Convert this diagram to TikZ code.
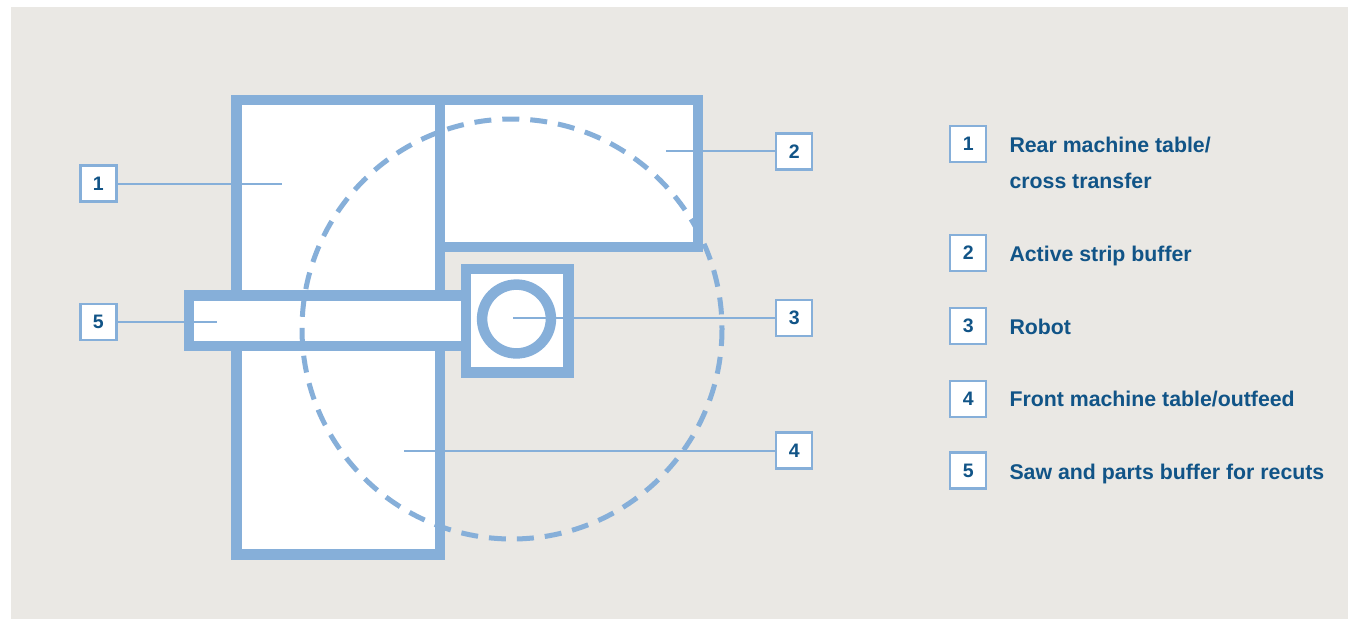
\documentclass[tikz,border=0pt]{standalone}
\usepackage{fontspec}
\setmainfont{Liberation Sans}
\definecolor{bg}{RGB}{234,232,228}
\definecolor{bl}{RGB}{134,175,217}
\definecolor{tx}{RGB}{17,84,135}
\begin{document}
\begin{tikzpicture}[x=1pt,y=-1pt,
  wall/.style={draw=bl,line width=10.5pt},
  tag/.style={draw=bl,line width=2.5pt,fill=white,minimum width=36pt,minimum height=36pt,inner sep=0pt,text=tx,font=\fontsize{19.5}{20}\selectfont\bfseries},
  lead/.style={draw=bl,line width=2pt},
  legtext/.style={anchor=base west,inner sep=0pt,text=tx,font=\fontsize{21.3}{25}\selectfont\bfseries}]
\useasboundingbox (0,0) rectangle (1348,619);
\fill[white] (0,0) rectangle (1348,619);
\fill[bg] (11,7) rectangle (1348,619);
% fills
\fill[white] (236.7,100) rectangle (440,554.7);
\fill[white] (440,100) rectangle (698,247);
\fill[white] (189,295.3) rectangle (466,346);
\fill[white] (466,269) rectangle (568.7,372.7);
% reach of the robot
\draw[bl,line width=5pt,dash pattern=on 17pt off 11pt] (512,329) circle[radius=210];
% walls
\draw[wall] (236.7,295.3) -- (236.7,100) -- (698,100) -- (698,247) -- (440,247);
\draw[wall] (440,100) -- (440,295.3);
\draw[wall] (236.7,346) -- (236.7,554.7) -- (440,554.7) -- (440,346);
\draw[wall] (466,295.3) -- (189,295.3) -- (189,346) -- (466,346);
\draw[wall] (466,269) rectangle (568.7,372.7);
\draw[wall] (516.5,319) circle[radius=34.4];
% label boxes
\node[tag] (k1) at (98.3,183.5) {1};
\node[tag] (k5) at (98.3,322) {5};
\node[tag] (k2) at (794.2,151.3) {2};
\node[tag] (k3) at (794.2,318) {3};
\node[tag] (k4) at (794.2,450.5) {4};
\coordinate (p1) at (282,183.5);
\coordinate (p5) at (217.3,322);
\coordinate (p2) at (666,151.3);
\coordinate (p3) at (512.7,318);
\coordinate (p4) at (404,450.5);
\draw[lead] (k1.east) -- (p1);
\draw[lead] (k5.east) -- (p5);
\draw[lead] (k2.west) -- (p2);
\draw[lead] (k3.west) -- (p3);
\draw[lead] (k4.west) -- (p4);
% legend
\node[tag] (l1) at (968.2,144) {1};
\node[tag] (l2) at (968.2,253) {2};
\node[tag] (l3) at (968.2,326) {3};
\node[tag] (l4) at (968.2,399) {4};
\node[tag] (l5) at (968.2,470.5) {5};
\node[legtext] (t1) at (1009.3,152) {Rear machine table/};
\node[legtext] (t1b) at (1009.3,188.3) {cross transfer};
\node[legtext] (t2) at (1009.3,261) {Active strip buffer};
\node[legtext] (t3) at (1009.3,334) {Robot};
\node[legtext] (t4) at (1009.3,406) {Front machine table/outfeed};
\node[legtext] (t5) at (1009.3,479.3) {Saw and parts buffer for recuts};
\end{tikzpicture}
\end{document}
